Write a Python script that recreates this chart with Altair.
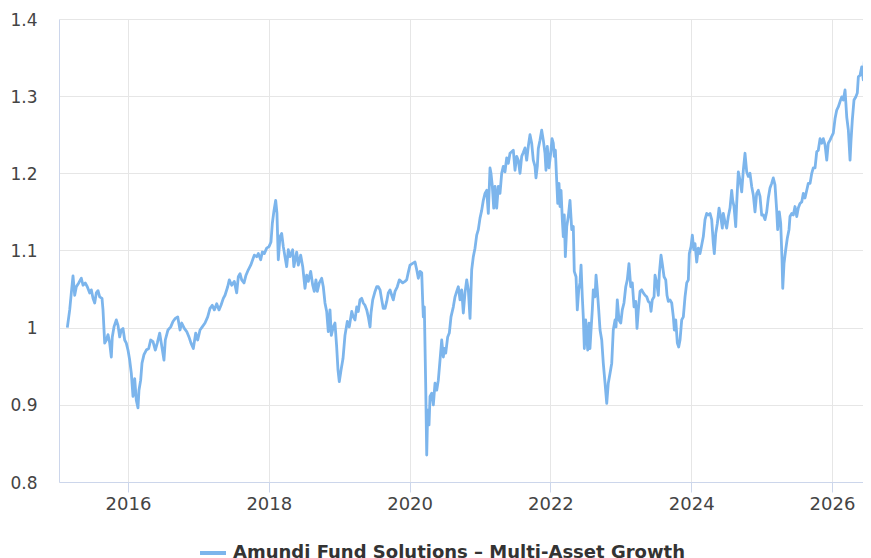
import altair as alt
import pandas as pd

series_name = "Amundi Fund Solutions – Multi-Asset Growth"

years = [
    2015.138, 2015.172, 2015.195, 2015.219, 2015.243, 2015.266, 2015.300, 2015.337, 2015.361, 2015.393,
    2015.422, 2015.456, 2015.479, 2015.503, 2015.527, 2015.550, 2015.574, 2015.598, 2015.631, 2015.645,
    2015.669, 2015.692, 2015.716, 2015.740, 2015.763, 2015.777, 2015.801, 2015.834, 2015.858, 2015.882,
    2015.905, 2015.929, 2015.953, 2015.976, 2016.000, 2016.024, 2016.047, 2016.071, 2016.095, 2016.118,
    2016.142, 2016.156, 2016.180, 2016.199, 2016.227, 2016.260, 2016.294, 2016.322, 2016.355, 2016.388,
    2016.416, 2016.450, 2016.473, 2016.511, 2016.530, 2016.568, 2016.607, 2016.639, 2016.672, 2016.706,
    2016.739, 2016.763, 2016.800, 2016.834, 2016.866, 2016.895, 2016.928, 2016.962, 2016.990, 2017.023,
    2017.055, 2017.094, 2017.132, 2017.165, 2017.197, 2017.226, 2017.260, 2017.293, 2017.321, 2017.354,
    2017.378, 2017.416, 2017.439, 2017.473, 2017.510, 2017.544, 2017.567, 2017.591, 2017.615, 2017.648,
    2017.676, 2017.709, 2017.743, 2017.771, 2017.794, 2017.828, 2017.851, 2017.885, 2017.908, 2017.936,
    2017.970, 2018.003, 2018.031, 2018.050, 2018.074, 2018.098, 2018.116, 2018.135, 2018.159, 2018.183,
    2018.206, 2018.230, 2018.254, 2018.277, 2018.301, 2018.339, 2018.356, 2018.396, 2018.419, 2018.453,
    2018.482, 2018.514, 2018.538, 2018.561, 2018.595, 2018.624, 2018.646, 2018.670, 2018.689, 2018.717,
    2018.751, 2018.774, 2018.798, 2018.822, 2018.845, 2018.869, 2018.888, 2018.916, 2018.940, 2018.964,
    2018.983, 2019.001, 2019.026, 2019.054, 2019.082, 2019.115, 2019.143, 2019.178, 2019.200, 2019.224,
    2019.249, 2019.271, 2019.295, 2019.320, 2019.342, 2019.366, 2019.391, 2019.413, 2019.438, 2019.452,
    2019.476, 2019.509, 2019.533, 2019.555, 2019.580, 2019.604, 2019.626, 2019.651, 2019.675, 2019.697,
    2019.722, 2019.746, 2019.768, 2019.793, 2019.825, 2019.854, 2019.878, 2019.902, 2019.935, 2019.959,
    2019.982, 2020.006, 2020.038, 2020.077, 2020.101, 2020.124, 2020.148, 2020.172, 2020.186, 2020.195,
    2020.209, 2020.229, 2020.243, 2020.257, 2020.276, 2020.290, 2020.314, 2020.337, 2020.361, 2020.385,
    2020.408, 2020.432, 2020.456, 2020.479, 2020.493, 2020.513, 2020.541, 2020.564, 2020.588, 2020.621,
    2020.645, 2020.669, 2020.692, 2020.716, 2020.740, 2020.763, 2020.787, 2020.811, 2020.834, 2020.858,
    2020.882, 2020.905, 2020.929, 2020.953, 2020.976, 2021.000, 2021.024, 2021.047, 2021.071, 2021.095,
    2021.118, 2021.142, 2021.156, 2021.175, 2021.195, 2021.213, 2021.237, 2021.260, 2021.284, 2021.308,
    2021.331, 2021.355, 2021.379, 2021.402, 2021.426, 2021.450, 2021.473, 2021.497, 2021.521, 2021.544,
    2021.568, 2021.592, 2021.615, 2021.639, 2021.663, 2021.686, 2021.710, 2021.734, 2021.757, 2021.781,
    2021.795, 2021.814, 2021.828, 2021.852, 2021.876, 2021.899, 2021.923, 2021.937, 2021.956, 2021.980,
    2022.004, 2022.023, 2022.041, 2022.055, 2022.070, 2022.089, 2022.104, 2022.122, 2022.136, 2022.151,
    2022.169, 2022.183, 2022.197, 2022.212, 2022.232, 2022.254, 2022.278, 2022.303, 2022.325, 2022.339,
    2022.364, 2022.382, 2022.402, 2022.420, 2022.435, 2022.453, 2022.467, 2022.482, 2022.501, 2022.516,
    2022.530, 2022.548, 2022.562, 2022.577, 2022.595, 2022.609, 2022.634, 2022.648, 2022.666, 2022.686,
    2022.705, 2022.729, 2022.751, 2022.776, 2022.800, 2022.822, 2022.847, 2022.871, 2022.893, 2022.918,
    2022.932, 2022.950, 2022.974, 2022.999, 2023.021, 2023.045, 2023.070, 2023.092, 2023.116, 2023.141,
    2023.163, 2023.188, 2023.212, 2023.230, 2023.249, 2023.273, 2023.297, 2023.320, 2023.344, 2023.368,
    2023.391, 2023.415, 2023.429, 2023.447, 2023.472, 2023.486, 2023.510, 2023.533, 2023.547, 2023.571,
    2023.589, 2023.614, 2023.638, 2023.656, 2023.675, 2023.699, 2023.723, 2023.746, 2023.760, 2023.780,
    2023.803, 2023.822, 2023.841, 2023.865, 2023.888, 2023.912, 2023.936, 2023.959, 2023.973, 2023.997,
    2024.016, 2024.036, 2024.054, 2024.078, 2024.101, 2024.125, 2024.149, 2024.172, 2024.196, 2024.220,
    2024.243, 2024.267, 2024.291, 2024.314, 2024.328, 2024.348, 2024.371, 2024.395, 2024.419, 2024.442,
    2024.456, 2024.480, 2024.504, 2024.527, 2024.551, 2024.575, 2024.589, 2024.608, 2024.632, 2024.646,
    2024.669, 2024.693, 2024.717, 2024.740, 2024.764, 2024.788, 2024.811, 2024.835, 2024.859, 2024.882,
    2024.906, 2024.930, 2024.953, 2024.977, 2025.001, 2025.024, 2025.048, 2025.072, 2025.095, 2025.119,
    2025.143, 2025.166, 2025.190, 2025.214, 2025.228, 2025.251, 2025.271, 2025.290, 2025.300, 2025.318,
    2025.342, 2025.365, 2025.389, 2025.403, 2025.428, 2025.450, 2025.474, 2025.499, 2025.521, 2025.545,
    2025.570, 2025.592, 2025.616, 2025.641, 2025.663, 2025.688, 2025.712, 2025.734, 2025.759, 2025.783,
    2025.805, 2025.830, 2025.854, 2025.876, 2025.901, 2025.925, 2025.947, 2025.972, 2025.996, 2026.018,
    2026.043, 2026.067, 2026.089, 2026.114, 2026.138, 2026.161, 2026.185, 2026.209, 2026.232, 2026.256,
    2026.270, 2026.288, 2026.312, 2026.337, 2026.359, 2026.374, 2026.398, 2026.422, 2026.445, 2026.459,
    2026.479, 2026.502, 2026.516,
]

values = [
    1.000, 1.023, 1.045, 1.067, 1.042, 1.053, 1.058, 1.064, 1.055, 1.058,
    1.053, 1.045, 1.049, 1.038, 1.032, 1.045, 1.048, 1.040, 1.038, 1.023,
    0.980, 0.984, 0.991, 0.980, 0.962, 0.988, 1.001, 1.010, 1.003, 0.988,
    0.997, 0.999, 0.984, 0.980, 0.971, 0.958, 0.941, 0.911, 0.934, 0.906,
    0.896, 0.919, 0.932, 0.954, 0.965, 0.971, 0.973, 0.984, 0.982, 0.971,
    0.980, 0.993, 0.980, 0.958, 0.984, 0.997, 1.001, 1.008, 1.012, 1.014,
    0.997, 1.006, 0.999, 0.995, 0.988, 0.980, 0.973, 0.993, 0.984, 0.997,
    1.001, 1.006, 1.014, 1.025, 1.029, 1.023, 1.031, 1.023, 1.029, 1.038,
    1.042, 1.053, 1.062, 1.055, 1.060, 1.045, 1.066, 1.070, 1.062, 1.058,
    1.068, 1.075, 1.081, 1.088, 1.094, 1.092, 1.096, 1.088, 1.098, 1.096,
    1.103, 1.105, 1.111, 1.135, 1.152, 1.165, 1.148, 1.088, 1.118, 1.122,
    1.105, 1.092, 1.079, 1.101, 1.092, 1.101, 1.079, 1.098, 1.081, 1.094,
    1.079, 1.051, 1.068, 1.060, 1.073, 1.055, 1.047, 1.062, 1.047, 1.058,
    1.064, 1.053, 1.032, 1.021, 0.995, 1.023, 0.990, 1.001, 1.006, 0.975,
    0.945, 0.930, 0.945, 0.960, 0.990, 1.008, 1.001, 1.021, 1.014, 1.010,
    1.027, 1.021, 1.036, 1.038, 1.032, 1.029, 1.023, 1.014, 1.001, 1.019,
    1.036, 1.047, 1.053, 1.053, 1.049, 1.036, 1.025, 1.025, 1.034, 1.045,
    1.049, 1.042, 1.036, 1.047, 1.053, 1.062, 1.060, 1.058, 1.060, 1.062,
    1.072, 1.081, 1.083, 1.085, 1.075, 1.064, 1.073, 1.071, 1.034, 1.014,
    1.027, 0.923, 0.835, 0.893, 0.874, 0.911, 0.915, 0.900, 0.928, 0.919,
    0.932, 0.958, 0.984, 0.962, 0.973, 0.967, 0.988, 0.993, 1.014, 1.027,
    1.040, 1.047, 1.053, 1.036, 1.049, 1.019, 1.045, 1.062, 1.049, 1.012,
    1.075, 1.092, 1.103, 1.120, 1.127, 1.142, 1.152, 1.165, 1.174, 1.178,
    1.148, 1.207, 1.200, 1.183, 1.155, 1.183, 1.155, 1.183, 1.174, 1.200,
    1.209, 1.202, 1.220, 1.213, 1.226, 1.228, 1.230, 1.204, 1.222, 1.217,
    1.200, 1.222, 1.227, 1.233, 1.217, 1.235, 1.250, 1.239, 1.217, 1.209,
    1.194, 1.209, 1.232, 1.243, 1.256, 1.243, 1.226, 1.204, 1.235, 1.207,
    1.226, 1.245, 1.239, 1.222, 1.230, 1.191, 1.161, 1.187, 1.157, 1.178,
    1.140, 1.118, 1.146, 1.092, 1.131, 1.144, 1.165, 1.127, 1.131, 1.073,
    1.066, 1.023, 1.049, 1.058, 1.081, 1.040, 1.014, 0.973, 1.010, 0.988,
    0.971, 1.006, 0.973, 0.997, 1.023, 1.049, 1.040, 1.068, 1.049, 1.023,
    0.997, 0.984, 0.954, 0.928, 0.902, 0.928, 0.941, 0.954, 0.997, 1.010,
    1.001, 1.036, 1.010, 1.006, 1.023, 1.032, 1.053, 1.062, 1.083, 1.053,
    1.058, 1.027, 1.034, 0.999, 1.023, 1.047, 1.049, 1.045, 1.042, 1.040,
    1.034, 1.032, 1.021, 1.036, 1.040, 1.068, 1.058, 1.042, 1.070, 1.094,
    1.083, 1.066, 1.062, 1.042, 1.034, 1.036, 1.032, 1.014, 0.997, 1.010,
    0.980, 0.975, 0.984, 1.010, 1.014, 1.040, 1.058, 1.062, 1.096, 1.105,
    1.120, 1.101, 1.109, 1.085, 1.103, 1.096, 1.107, 1.118, 1.140, 1.148,
    1.146, 1.148, 1.140, 1.109, 1.096, 1.122, 1.135, 1.155, 1.144, 1.129,
    1.148, 1.137, 1.129, 1.144, 1.155, 1.178, 1.165, 1.157, 1.131, 1.161,
    1.202, 1.191, 1.176, 1.204, 1.226, 1.202, 1.196, 1.200, 1.183, 1.172,
    1.150, 1.174, 1.178, 1.170, 1.146, 1.146, 1.140, 1.150, 1.168, 1.181,
    1.187, 1.194, 1.185, 1.152, 1.127, 1.150, 1.135, 1.088, 1.051, 1.083,
    1.101, 1.116, 1.127, 1.144, 1.148, 1.146, 1.157, 1.144, 1.155, 1.161,
    1.163, 1.174, 1.168, 1.178, 1.187, 1.187, 1.200, 1.207, 1.207, 1.228,
    1.230, 1.245, 1.239, 1.245, 1.237, 1.217, 1.239, 1.243, 1.248, 1.252,
    1.271, 1.282, 1.286, 1.293, 1.299, 1.295, 1.308, 1.273, 1.256, 1.217,
    1.243, 1.269, 1.295, 1.299, 1.304, 1.325, 1.327, 1.338, 1.321, 1.345,
    1.353, 1.360, 1.362,
]

x_ticks = [2016, 2018, 2020, 2022, 2024, 2026]
y_ticks = [0.8, 0.9, 1.0, 1.1, 1.2, 1.3, 1.4]
x_domain = [2015.02, 2026.44]
y_domain = [0.8, 1.4]

df = pd.DataFrame({"year": years, "value": values, "series": series_name})

chart = alt.Chart(df).mark_line(strokeWidth=2.8, strokeJoin="round").encode(
    x=alt.X(
        "year:Q",
        scale=alt.Scale(domain=x_domain, nice=False, zero=False),
        axis=alt.Axis(
            values=x_ticks, format="d", title=None, grid=True,
            gridColor="#e6e6e6", domainColor="#ccd6eb", tickColor="#ccd6eb",
            tickSize=10, labelFontSize=18, labelColor="#444444", labelPadding=3,
            labelFlush=False,
        ),
    ),
    y=alt.Y(
        "value:Q",
        scale=alt.Scale(domain=y_domain, nice=False, zero=False),
        axis=alt.Axis(
            values=y_ticks, format=".2~f", title=None, grid=True,
            gridColor="#e6e6e6", domainColor="#ccd6eb", ticks=False,
            labelFontSize=17, labelPadding=22, labelColor="#444444",
            labelOffset=1, labelFlush=False,
        ),
    ),
    color=alt.Color(
        "series:N",
        scale=alt.Scale(range=["#7cb5ec"]),
        legend=alt.Legend(
            orient="none", legendX=139, legendY=519, title=None,
            symbolType="stroke", symbolSize=676, symbolStrokeWidth=4,
            labelFontSize=18, labelFontWeight="bold", labelColor="#333333",
            labelOffset=5, labelLimit=0,
        ),
    ),
).properties(
    width=804,
    height=463,
    padding={"left": 51, "top": 11, "right": 0, "bottom": 76},
    autosize=alt.AutoSizeParams(type="none"),
).configure_view(stroke=None).configure_axis(
    labelFont="DejaVu Sans"
).configure_legend(labelFont="DejaVu Sans")

chart.save("out.html", embed_options={"renderer": "svg", "actions": False})
